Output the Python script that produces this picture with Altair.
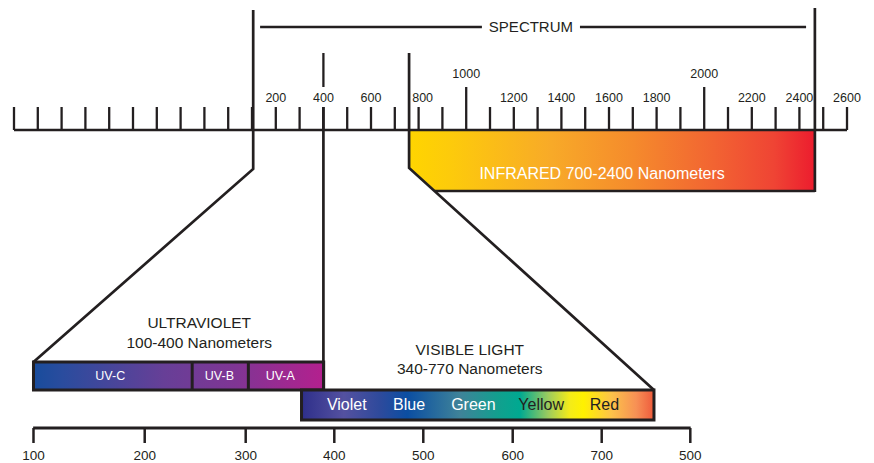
import altair as alt
import pandas as pd
import numpy as np

# ---------------- data ----------------
# top (full spectrum) ruler, in nanometres
TOP_TICKS = [-900, -800, -700, -600, -500, -400, -300, -200, -100, 0, 100, 200, 300,
             400, 500, 600, 700, 800, 900, 1000, 1100, 1200, 1300, 1400, 1500, 1600,
             1700, 1800, 1900, 2000, 2100, 2200, 2300, 2400, 2500, 2600]
TOP_MAJOR_VALUES = [1000, 2000]
TOP_LABEL_VALUES = [200, 400, 600, 1200, 1400, 1600, 1800, 2200, 2400, 2600]
TOP_LABEL_SHIFTED = [800]
UV_START_NM = 105
VIS_EDGE_NM = 400
IR_START_NM = 760
IR_CHAMFER_NM = 869
IR_END_NM = 2465
SPECTRUM_NM = [134, 2428]
SPECTRUM_GAP_NM = [1066, 1478]
IR_LABEL_NM = 1571
IR_LABEL = "INFRARED 700-2400 Nanometers"

# bottom (magnified) ruler
BOT_TICKS = [100, 200, 300, 400, 500, 600, 700, 800]
BOT_LABELS = ["100", "200", "300", "400", "500", "600", "700", "500"]
UV_NAMES = ["UV-C", "UV-B", "UV-A"]
UV_EDGES = [99, 247, 303, 388]
UV_LABEL_AT = [169, 274, 339]
UV_TITLE = ["ULTRAVIOLET", "100-400 Nanometers"]
UV_TITLE_AT = 254
VIS_EDGES = [363, 759]
VIS_NAMES = ["Violet", "Blue", "Green", "Yellow", "Red"]
VIS_LABEL_AT = [414, 484, 556, 632, 703]
VIS_DARK = [False, False, False, True, True]
VIS_TITLE = ["VISIBLE LIGHT", "340-770 Nanometers"]
VIS_TITLE_AT = 552

# ---------------- layout ----------------
W, H = 858, 455
X_DOMAIN = [-925.2, 2679.8]
Y_DOMAIN = [8, 463]
# where the magnified ruler's ticks sit along the top scale
BOT_AT = [-818.1, -350.8, 73.5, 445.8, 819.7, 1195.4, 1569.3, 1941.6]
ROW = dict(top_hi=8, top_uv=10, mark400=53, spec=27, label_major=74, major_top=87,
           label=98, tick_top=107, base=130, bend_ir=168, bend_uv=169, ir_bottom=191,
           uv_t1=323, uv_t2=343, uv_top=362, uv_mid=376, uv_bottom=390,
           vis_t1=350, vis_t2=369, vis_mid=405, vis_bottom=420,
           bot_base=428, bot_tick=443, bot_label=456)

INK = "#231F20"
FONT = "Liberation Sans, Arial, Helvetica, sans-serif"


def bot(v):
    return float(np.interp(v, BOT_TICKS, BOT_AT))


XS = alt.Scale(domain=X_DOMAIN, nice=False, zero=False)
YS = alt.Scale(domain=Y_DOMAIN, nice=False, zero=False, reverse=True)


def X(f="x"):
    return alt.X(f"{f}:Q", scale=XS, axis=None)


def Y(f="y"):
    return alt.Y(f"{f}:Q", scale=YS, axis=None)


# ---------------- fills ----------------
def grad(stops):
    return alt.LinearGradient(
        gradient="linear", x1=0, x2=1, y1=0, y2=0,
        stops=[alt.GradientStop(color=c, offset=o) for o, c in stops])


IR_GRAD = grad([(0, "#FFD500"), (0.1, "#FDCB0B"), (0.35, "#F8AA28"), (0.55, "#F58B2C"),
                (0.75, "#F26432"), (0.9, "#EF4434"), (1, "#EC1C2E")])
UV_GRAD = grad([(0, "#184C9C"), (0.1, "#2A4C9E"), (0.45, "#673F97"), (0.7, "#803594"),
                (1, "#B4208E")])
VIS_GRAD = grad([(0, "#2E2F8A"), (0.12, "#5451A0"), (0.22, "#2F4A9C"), (0.3, "#0B4EA2"),
                 (0.45, "#3F8399"), (0.56, "#11A08E"), (0.62, "#00A991"), (0.70, "#9CCB5E"),
                 (0.76, "#F3EB1A"), (0.8, "#FFF100"), (0.88, "#FDC24A"), (0.95, "#F79055"),
                 (1, "#EE5A3C")])

layers = []

# infrared band (chamfered)
ir_df = pd.DataFrame({"x": [IR_START_NM, IR_CHAMFER_NM, IR_END_NM],
                      "y": [ROW["base"]] * 3,
                      "y2": [ROW["bend_ir"], ROW["ir_bottom"], ROW["ir_bottom"]]})
layers.append(alt.Chart(ir_df).mark_area(fill=IR_GRAD, orient="vertical", opacity=1)
              .encode(x=X(), y=Y(), y2="y2:Q"))

# ultraviolet band
uv_df = pd.DataFrame({"x": [bot(UV_EDGES[0])], "x2": [bot(UV_EDGES[-1])],
                      "y": [ROW["uv_top"]], "y2": [ROW["uv_bottom"]]})
layers.append(alt.Chart(uv_df).mark_rect(fill=UV_GRAD, stroke=INK, strokeWidth=3)
              .encode(x=X(), x2="x2:Q", y=Y(), y2="y2:Q"))

# visible band
vis_df = pd.DataFrame({"x": [bot(VIS_EDGES[0])], "x2": [bot(VIS_EDGES[1])],
                       "y": [ROW["uv_bottom"]], "y2": [ROW["vis_bottom"]]})
layers.append(alt.Chart(vis_df).mark_rect(fill=VIS_GRAD, stroke=INK, strokeWidth=3)
              .encode(x=X(), x2="x2:Q", y=Y(), y2="y2:Q"))

# straight segments
segs = []
segs.append((TOP_TICKS[0], ROW["base"], TOP_TICKS[-1], ROW["base"], 2.7))
for t in TOP_TICKS:
    top = ROW["major_top"] if t in TOP_MAJOR_VALUES else ROW["tick_top"]
    segs.append((t, top, t, ROW["base"], 2.3))
segs.append((VIS_EDGE_NM, ROW["mark400"], VIS_EDGE_NM, ROW["major_top"], 2.3))
segs.append((SPECTRUM_NM[0], ROW["spec"], SPECTRUM_GAP_NM[0], ROW["spec"], 2.5))
segs.append((SPECTRUM_GAP_NM[1], ROW["spec"], SPECTRUM_NM[1], ROW["spec"], 2.5))
segs.append((bot(BOT_TICKS[0]) - 1.5, ROW["bot_base"], bot(BOT_TICKS[-1]) + 1.5, ROW["bot_base"], 3))
for t in BOT_TICKS:
    segs.append((bot(t), ROW["bot_base"], bot(t), ROW["bot_tick"], 2.5))
for a in UV_EDGES[1:-1]:
    segs.append((bot(a), ROW["uv_top"], bot(a), ROW["uv_bottom"], 3))
seg_df = pd.DataFrame(segs, columns=["x", "y", "x2", "y2", "w"])
layers.append(alt.Chart(seg_df).mark_rule(color=INK, strokeCap="butt")
              .encode(x=X(), x2="x2:Q", y=Y(), y2="y2:Q",
                      strokeWidth=alt.StrokeWidth("w:Q", scale=None)))

# bracket paths
paths = [
    ("uv", [(UV_START_NM, ROW["top_uv"]), (UV_START_NM, ROW["bend_uv"]),
            (bot(UV_EDGES[0]), ROW["uv_top"])]),
    ("ir", [(IR_START_NM, ROW["mark400"]), (IR_START_NM, ROW["bend_ir"]),
            (bot(VIS_EDGES[1]), ROW["uv_bottom"])]),
    ("irb", [(IR_CHAMFER_NM, ROW["ir_bottom"]), (IR_END_NM, ROW["ir_bottom"])]),
    ("ire", [(IR_END_NM, ROW["top_hi"]), (IR_END_NM, ROW["ir_bottom"] + 1)]),
    ("v400", [(VIS_EDGE_NM, ROW["tick_top"]), (VIS_EDGE_NM, ROW["uv_bottom"])]),
]
prow = []
for name, pts in paths:
    for i, (px, py) in enumerate(pts):
        prow.append({"p": name, "o": i, "x": px, "y": py})
path_df = pd.DataFrame(prow)
layers.append(alt.Chart(path_df).mark_line(color=INK, strokeWidth=2.7, strokeJoin="miter")
              .encode(x=X(), y=Y(), detail="p:N", order="o:Q"))


def texts(df, size, color=INK, dx=0):
    return (alt.Chart(df).mark_text(font=FONT, fontSize=size, color=color, align="center",
                                    baseline="middle", dx=dx)
            .encode(x=X(), y=Y(), text="t:N"))


layers.append(texts(pd.DataFrame({"x": TOP_LABEL_VALUES, "y": ROW["label"],
                                  "t": [str(v) for v in TOP_LABEL_VALUES]}), 12.5))
layers.append(texts(pd.DataFrame({"x": TOP_LABEL_SHIFTED, "y": ROW["label"],
                                  "t": [str(v) for v in TOP_LABEL_SHIFTED]}), 12.5, dx=4))
layers.append(texts(pd.DataFrame({"x": TOP_MAJOR_VALUES, "y": ROW["label_major"],
                                  "t": [str(v) for v in TOP_MAJOR_VALUES]}), 12.5))
layers.append(texts(pd.DataFrame({"x": [sum(SPECTRUM_GAP_NM) / 2], "y": ROW["spec"],
                                  "t": ["SPECTRUM"]}), 15))
layers.append(texts(pd.DataFrame({"x": [IR_LABEL_NM], "y": ROW["ir_bottom"] - 17,
                                  "t": [IR_LABEL]}), 16, "white"))
layers.append(texts(pd.DataFrame({"x": [bot(UV_TITLE_AT)] * 2,
                                  "y": [ROW["uv_t1"], ROW["uv_t2"]], "t": UV_TITLE}), 15.5))
layers.append(texts(pd.DataFrame({"x": [bot(VIS_TITLE_AT)] * 2,
                                  "y": [ROW["vis_t1"], ROW["vis_t2"]], "t": VIS_TITLE}), 15.5))
layers.append(texts(pd.DataFrame({"x": [bot(v) for v in UV_LABEL_AT], "y": ROW["uv_mid"],
                                  "t": UV_NAMES}), 12.5, "white"))
light = [(n, a) for n, a, d in zip(VIS_NAMES, VIS_LABEL_AT, VIS_DARK) if not d]
dark = [(n, a) for n, a, d in zip(VIS_NAMES, VIS_LABEL_AT, VIS_DARK) if d]
layers.append(texts(pd.DataFrame({"x": [bot(a) for n, a in light], "y": ROW["vis_mid"],
                                  "t": [n for n, a in light]}), 16, "white"))
layers.append(texts(pd.DataFrame({"x": [bot(a) for n, a in dark], "y": ROW["vis_mid"],
                                  "t": [n for n, a in dark]}), 16, INK))
layers.append(texts(pd.DataFrame({"x": [bot(v) for v in BOT_TICKS], "y": ROW["bot_label"],
                                  "t": BOT_LABELS}), 13.5))

chart = (alt.layer(*layers)
         .properties(width=W, height=H, padding=0,
                     autosize=alt.AutoSizeParams(type="none"), background="white")
         .configure_view(stroke=None))

chart.save("out.html", embed_options={"renderer": "svg", "actions": False})
